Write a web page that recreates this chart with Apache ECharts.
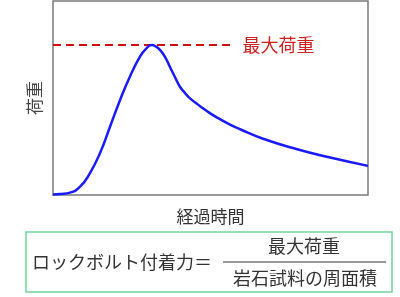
<!DOCTYPE html>
<html><head><meta charset="utf-8">
<script src="https://cdn.jsdelivr.net/npm/echarts@6/dist/echarts.min.js"></script>
<style>html,body{margin:0;padding:0;background:#fff}#c{width:400px;height:297px}</style>
</head><body><div id="c"></div>
<script>
// 経過時間 (0-100) vs 荷重 (0-100)
const time = [0, 2.2, 5.4, 8.6, 11.7, 14.9, 18.1, 21.3, 24.4, 27.6, 29.5, 31.3, 32.7, 34.0, 35.6, 37.1, 38.7, 40.3, 41.9, 43.5, 46.7, 49.8, 53.0, 56.2, 59.4, 66.7, 77.5, 88.0, 100];
const load = [0.3, 0.5, 1.2, 4.3, 11.2, 21.5, 35.2, 49.0, 61.0, 71.3, 75.3, 77.3, 76.5, 74.7, 71.1, 66.1, 60.8, 55.8, 52.6, 49.8, 45.8, 42.2, 39.1, 36.3, 33.9, 29.0, 23.6, 19.3, 15.0];
const maxLoad = 77.3;
const maxLineEnd = 57;
const xName = '経過時間';
const yName = '荷重';
const maxLabel = '最大荷重';
const formulaLeft = 'ロックボルト付着力＝';
const formulaNum = '最大荷重';
const formulaDen = '岩石試料の周面積';

const font = '"Noto Sans CJK JP", sans-serif';
const chart = echarts.init(document.getElementById('c'), null, {renderer: 'canvas'});
chart.setOption({
  animation: false,
  grid: {left: 53, top: 1, width: 315, height: 194, show: true, borderColor: '#7a7a7a', borderWidth: 1.5, backgroundColor: 'transparent'},
  xAxis: {type: 'value', min: 0, max: 100, name: xName, nameLocation: 'middle', nameGap: 13,
    nameTextStyle: {fontFamily: font, fontSize: 17, color: '#333'},
    axisLine: {show: false}, axisTick: {show: false}, axisLabel: {show: false}, splitLine: {show: false}},
  yAxis: {type: 'value', min: 0, max: 100, name: yName, nameLocation: 'middle', nameGap: 10, nameRotate: 90,
    nameTextStyle: {fontFamily: font, fontSize: 17, color: '#444'},
    axisLine: {show: false}, axisTick: {show: false}, axisLabel: {show: false}, splitLine: {show: false}},
  series: [
    {type: 'line', data: time.map((t, i) => [t, load[i]]), smooth: 0.5, showSymbol: false,
      lineStyle: {color: '#1a1aff', width: 2.5}, z: 3},
    {type: 'line', data: [[0, maxLoad], [maxLineEnd, maxLoad]], showSymbol: false,
      lineStyle: {color: '#cc1111', width: 2, type: [8, 5]},
      endLabel: {show: true, formatter: maxLabel, distance: 10, color: '#cc2222', fontFamily: font, fontSize: 18}, z: 2}
  ],
  graphic: [
    {type: 'rect', shape: {x: 26, y: 232, width: 366, height: 60}, style: {fill: 'none', stroke: '#77d39c', lineWidth: 1.5}},
    {type: 'text', x: 32, y: 262, style: {text: formulaLeft, fontFamily: font, fontSize: 18, fill: '#333', verticalAlign: 'middle'}},
    {type: 'text', x: 304, y: 246, style: {text: formulaNum, fontFamily: font, fontSize: 18, fill: '#333', align: 'center', verticalAlign: 'middle'}},
    {type: 'line', shape: {x1: 223, y1: 262, x2: 386, y2: 262}, style: {stroke: '#333', lineWidth: 1}},
    {type: 'text', x: 305, y: 278, style: {text: formulaDen, fontFamily: font, fontSize: 18, fill: '#333', align: 'center', verticalAlign: 'middle'}}
  ]
});
</script></body></html>
